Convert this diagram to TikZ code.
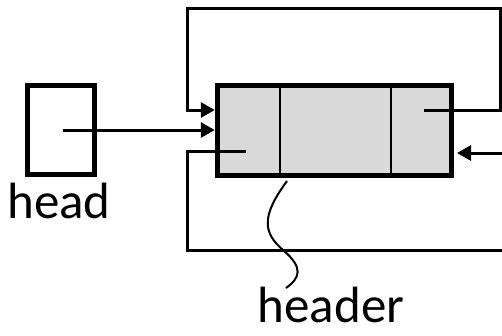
\documentclass[tikz,border=0pt]{standalone}
\usepackage{fontspec}
\setmainfont{Carlito}
\usetikzlibrary{arrows.meta,calc}
\definecolor{cellgray}{HTML}{D9D9D9}

\begin{document}
\begin{tikzpicture}[x=1pt,y=-1pt,
  box/.style={draw,line width=5.5pt,inner sep=0pt},
  link/.style={line width=3pt},
  tip/.style={-{Triangle[length=14pt,width=15pt]}},
  lbl/.style={font=\fontsize{51}{56}\selectfont,inner sep=0pt,text depth=0pt,anchor=base}]
  \useasboundingbox (0,0) rectangle (502,335);
  \clip (0,0) rectangle (502,335);

  % head pointer box
  \node[box,minimum width=67pt,minimum height=89pt] (headbox) at (61,130) {};
  \node[lbl] (headlbl) at (59,218) {head};

  % header node with three cells
  \node[box,fill=cellgray,minimum width=234pt,minimum height=90pt] (hdr) at (334.5,130.5) {};
  \draw[line width=2pt] ($(hdr.north west)!0.271!(hdr.north east)$) -- ($(hdr.south west)!0.271!(hdr.south east)$);
  \draw[line width=2pt] ($(hdr.north west)!0.737!(hdr.north east)$) -- ($(hdr.south west)!0.737!(hdr.south east)$);
  \node[lbl] (hdrlbl) at (331,322) {header};

  % pointer ends inside the cells
  \coordinate (hp) at (63,130);
  \coordinate (lp) at (246,151);
  \coordinate (rp) at (424,110);

  % head -> header
  \draw[link,tip] (hp) -- (hdr.west |- hp);

  % next: loops back over the top
  \draw[link,tip] (rp) -- (500,110) -- (500,8) -- (187,8) -- (187,110) -- (hdr.west |- 0,110);

  % prev: loops round the bottom
  \draw[link,tip] (lp) -- (187,151) -- (187,250) -- (506,250) -- (506,153) -- (457,153);

  % squiggle to the label
  \draw[line width=2pt] (287,181) .. controls (262,215) and (262,232) .. (283,250)
    .. controls (304,268) and (300,278) .. (286,288);
\end{tikzpicture}
\end{document}
